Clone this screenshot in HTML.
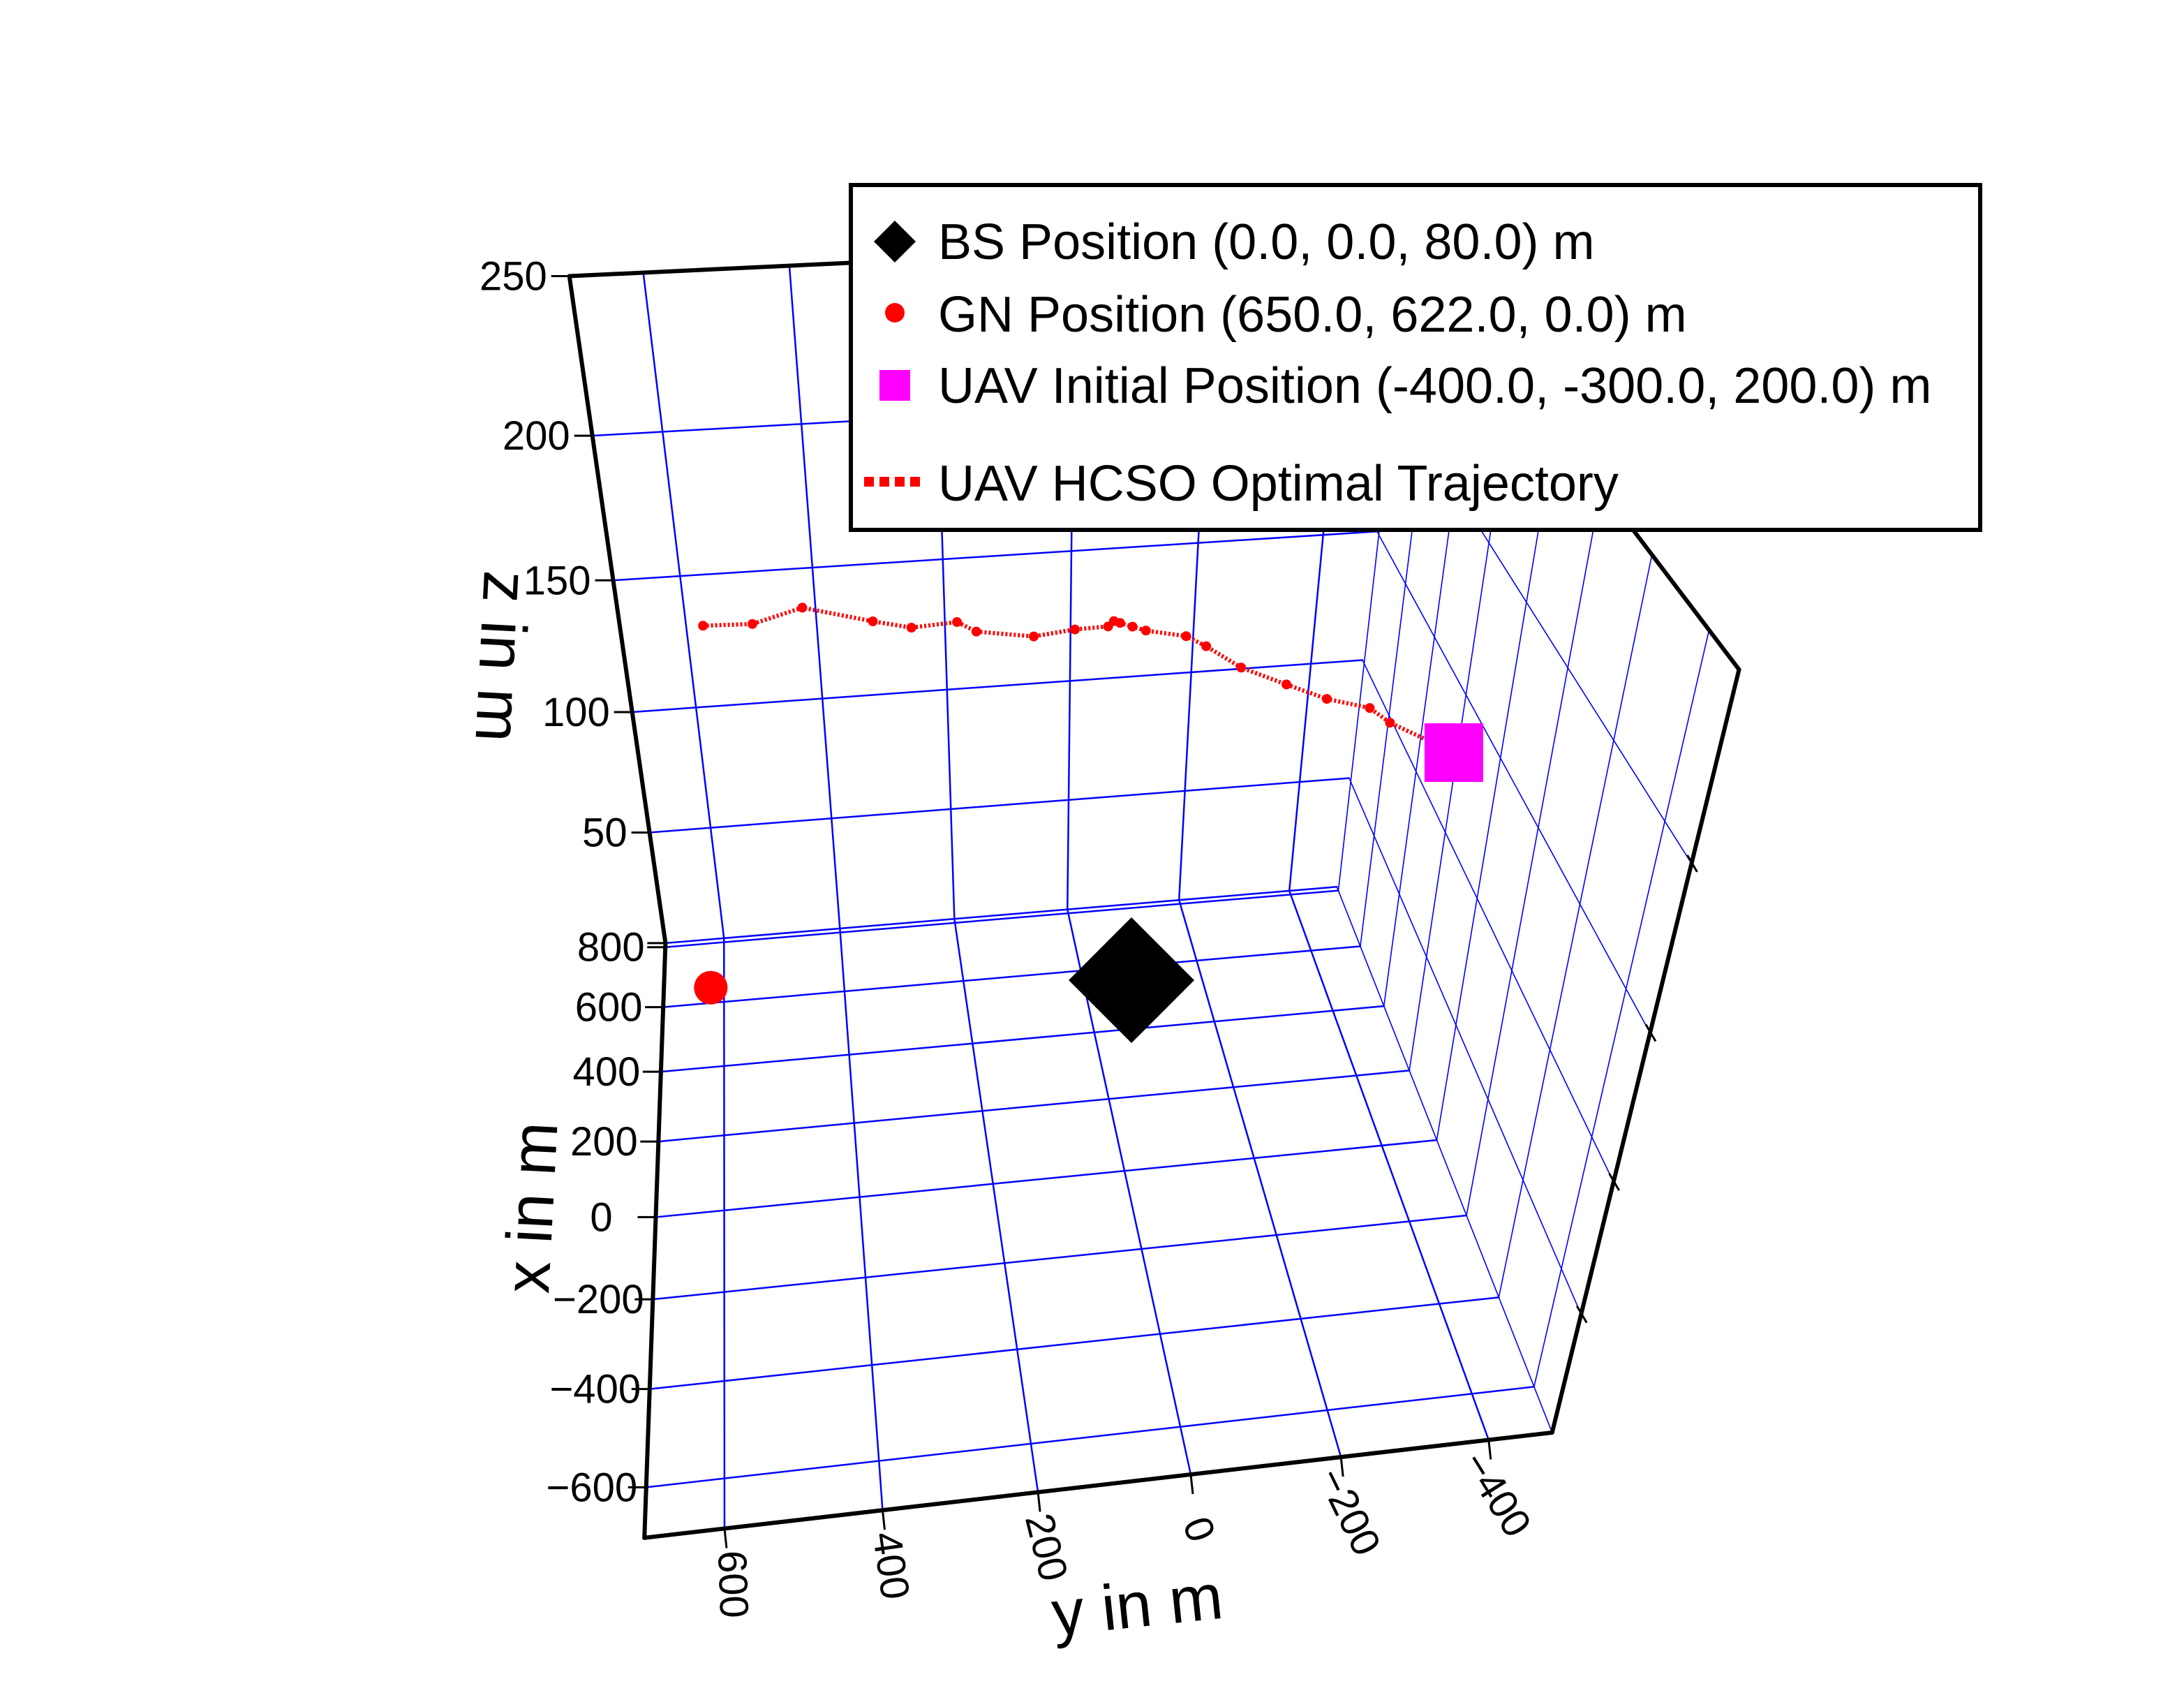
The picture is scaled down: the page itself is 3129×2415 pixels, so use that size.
<!DOCTYPE html>
<html><head><meta charset="utf-8">
<style>
html,body{margin:0;padding:0;background:#fff;}
svg{display:block;}
text{font-family:"Liberation Sans",sans-serif;fill:#000;}
</style></head>
<body>
<svg id="chart" xmlns="http://www.w3.org/2000/svg" width="3129" height="2415" viewBox="0 0 3129 2415">
<rect x="0" y="0" width="3129" height="2415" fill="#fff"/>
<g id="grid"></g>
<g id="edges"></g>
<g id="ticks"></g>
<g id="series"></g>
<text x="0" y="0" font-size="92" text-anchor="middle" dominant-baseline="middle" transform="translate(712,940) rotate(93)">z in m</text>
<text x="0" y="0" font-size="92" text-anchor="middle" dominant-baseline="middle" transform="translate(768,1730) rotate(-87)">x in m</text>
<text x="0" y="0" font-size="92" text-anchor="middle" dominant-baseline="middle" transform="translate(1630,2306) rotate(-6)">y in m</text>
<g>
<rect x="1219" y="265" width="1618" height="494" fill="#fff" stroke="#000" stroke-width="6"/>
<g>
<polygon points="1282,316 1312,346 1282,376 1252,346" fill="#000"/>
<text x="1344" y="371" font-size="72">BS Position (0.0, 0.0, 80.0) m</text>
</g>
<g>
<circle cx="1282" cy="448" r="14" fill="#ff0000"/>
<text x="1344" y="475" font-size="72">GN Position (650.0, 622.0, 0.0) m</text>
</g>
<g>
<rect x="1260" y="530" width="44" height="44" fill="#ff00ff"/>
<text x="1344" y="577" font-size="72">UAV Initial Position (-400.0, -300.0, 200.0) m</text>
</g>
<g>
<line x1="1238" y1="690" x2="1326" y2="690" stroke="#ff0000" stroke-width="14" stroke-dasharray="14 8"/>
<text x="1344" y="717" font-size="72">UAV HCSO Optimal Trajectory</text>
</g>
</g>
</svg>
<script>
// ---- data ----
const xTicks = [-600,-400,-200,0,200,400,600,800];
const yTicks = [-400,-200,0,200,400,600];
const zTicks = [0,50,100,150,200,250];
const zTickLabels = ["0","50","100","150","200","250"];
const xLimits = [-696, 814];
const yLimits = [-487, 700];
const zLimits = [0, 250];
const bsPos = [0, 0, 80];
const gnPos = [650, 622, 0];
const uavPos = [-400, -300, 200];
const trajX = [-400,-330,-288,-228,-162,-96,-46,-12,33,48,62,69,94,142,199,278,304,367,418,514,582,650];
const trajY = [-300,-240,-225,-187,-151,-107,-71,-51,-7,8,22,29,33,70,118,188,212,271,322,418,492,566];
const trajZ = [200,202,202,199,197,196,198,198,196,196,196,196,192,187,180,175,176,169,167,164,153,147];

// ---- camera calibration (axis-box geometry, display coords x2) ----
const calWorld = [[814,700,250],[814,700,0],[-696,700,0],[-696,-487,0],[-696,-487,250],[814,-487,0],[-400,700,0],[600,700,0],[-200,-487,0],[200,-487,0],[-600,-487,0],[-696,0,0],[814,700,150],[814,700,100],[814,-487,100]];
const calScreen = [[408,198],[477,675],[463,1102],[1113,1026],[1245,478],[958,636],[467,995],[474,720],[1050,870],[1008,765],[1099,993],[851,1058],[439,416],[452,510],[978,474]];

function solveP(){
  const n=11, A=[], b=[];
  for(let i=0;i<calWorld.length;i++){
    const X=calWorld[i][0]/1000,Y=calWorld[i][1]/1000,Z=calWorld[i][2]/1000;
    const u=calScreen[i][0]*2/1000,v=calScreen[i][1]*2/1000;
    A.push([X,Y,Z,1,0,0,0,0,-u*X,-u*Y,-u*Z]); b.push(u);
    A.push([0,0,0,0,X,Y,Z,1,-v*X,-v*Y,-v*Z]); b.push(v);
  }
  const M=[];for(let i=0;i<n;i++){M.push(new Array(n+1).fill(0));}
  for(let r=0;r<A.length;r++)for(let i=0;i<n;i++){for(let j=0;j<n;j++)M[i][j]+=A[r][i]*A[r][j];M[i][n]+=A[r][i]*b[r];}
  for(let c=0;c<n;c++){let p=c;for(let r=c+1;r<n;r++)if(Math.abs(M[r][c])>Math.abs(M[p][c]))p=r;
    [M[c],M[p]]=[M[p],M[c]];
    for(let r=0;r<n;r++){if(r===c)continue;const f=M[r][c]/M[c][c];for(let j=c;j<=n;j++)M[r][j]-=f*M[c][j];}}
  return M.map((row,i)=>row[n]/row[i]);
}
const P=solveP();
function proj(x,y,z){
  const X=x/1000,Y=y/1000,Z=z/1000;
  const w=P[8]*X+P[9]*Y+P[10]*Z+1;
  return [(P[0]*X+P[1]*Y+P[2]*Z+P[3])/w*1000,(P[4]*X+P[5]*Y+P[6]*Z+P[7])/w*1000];
}
const NS="http://www.w3.org/2000/svg";
function mk(tag,attrs,parent){const e=document.createElementNS(NS,tag);for(const k in attrs)e.setAttribute(k,attrs[k]);parent.appendChild(e);return e;}
function line3(a,b,parent,stroke,sw){const p=proj(...a),q=proj(...b);return mk('line',{x1:p[0],y1:p[1],x2:q[0],y2:q[1],stroke:stroke,'stroke-width':sw,'stroke-linecap':'round'},parent);}

const grid=document.getElementById('grid');
const [x0,x1]=xLimits,[y0,y1]=yLimits,[z0,z1]=zLimits;
xTicks.forEach(x=>{const l=line3([x,y0,0],[x,y1,0],grid,'#0000ff',2.5);

});
yTicks.forEach(y=>{const l=line3([x0,y,0],[x1,y,0],grid,'#0000ff',2.5);

});
yTicks.forEach(y=>{const l=line3([x1,y,0],[x1,y,z1],grid,'#0000ff',2.5);

});
zTicks.forEach(z=>{const l=line3([x1,y0,z],[x1,y1,z],grid,'#0000ff',2.5);

});
xTicks.forEach(x=>{const l=line3([x,y0,0],[x,y0,z1],grid,'#0000ff',1.6);

});
zTicks.forEach(z=>{const l=line3([x0,y0,z],[x1,y0,z],grid,'#0000ff',1.6);

});

const edges=document.getElementById('edges');
[[[x1,y1,z1],[x1,y0,z1]],[[x0,y0,z1],[x1,y0,z1]],[[x1,y1,0],[x1,y1,z1]],[[x0,y1,0],[x1,y1,0]],[[x0,y0,0],[x0,y1,0]],[[x0,y0,0],[x0,y0,z1]]].forEach(e=>{
  const l=line3(e[0],e[1],edges,'#000',6);
  
  
});

const ticks=document.getElementById('ticks');
zTicks.forEach((z,i)=>{const p=proj(x1,y1,z);
  const t=mk('line',{x1:p[0]-26,y1:p[1],x2:p[0],y2:p[1],stroke:'#000','stroke-width':3},ticks);
  
  
  if(z===0) return;
  const tx=mk('text',{x:p[0]-32,y:p[1]+20,'font-size':58,'text-anchor':'end'},ticks);tx.textContent=zTickLabels[i];
  
  
});
xTicks.forEach(x=>{const p=proj(x,y1,0);
  const t=mk('line',{x1:p[0]-26,y1:p[1],x2:p[0],y2:p[1],stroke:'#000','stroke-width':3},ticks);
  
  
  const tx=mk('text',{x:p[0]-78,y:p[1]+20,'font-size':58,'text-anchor':'middle'},ticks);tx.textContent=(x<0?'\u2212':'')+Math.abs(x);
  
  
});
yTicks.forEach(y=>{const p=proj(x0,y,0);
  const t=mk('line',{x1:p[0],y1:p[1],x2:p[0]+3,y2:p[1]+28,stroke:'#000','stroke-width':3},ticks);
  
  
  const ang=58+(y+400)*0.03;
  const tx=mk('text',{x:0,y:0,'font-size':58,'text-anchor':'middle','dominant-baseline':'middle',transform:`translate(${p[0]+8},${p[1]+80}) rotate(${ang})`},ticks);tx.textContent=(y<0?'\u2212':'')+Math.abs(y);
  
  
});
[50,100,150,200].forEach(z=>{const p=proj(x0,y0,z);
  const t=mk('line',{x1:p[0]-6,y1:p[1]-12,x2:p[0]+8,y2:p[1]+12,stroke:'#000','stroke-width':3},ticks);
  
  
});

const series=document.getElementById('series');
const pts=trajX.map((x,i)=>proj(x,trajY[i],trajZ[i]));
const path=mk('polyline',{points:pts.map(p=>p[0].toFixed(1)+','+p[1].toFixed(1)).join(' '),fill:'none',stroke:'#ff0000','stroke-width':6,'stroke-dasharray':'3 3'},series);


pts.forEach(p=>{const c=mk('circle',{cx:p[0],cy:p[1],r:7,fill:'#ff0000'},series);
  
  });
const g=proj(...gnPos);
const gc=mk('circle',{cx:g[0],cy:g[1],r:24,fill:'#ff0000'},series);


const b=proj(...bsPos);
const bd=mk('polygon',{points:`${b[0]},${b[1]-90} ${b[0]+90},${b[1]} ${b[0]},${b[1]+90} ${b[0]-90},${b[1]}`,fill:'#000'},series);


const u=proj(...uavPos);
const us=mk('rect',{x:u[0]-42,y:u[1]-42,width:84,height:84,fill:'#ff00ff'},series);


</script>
</body></html>
